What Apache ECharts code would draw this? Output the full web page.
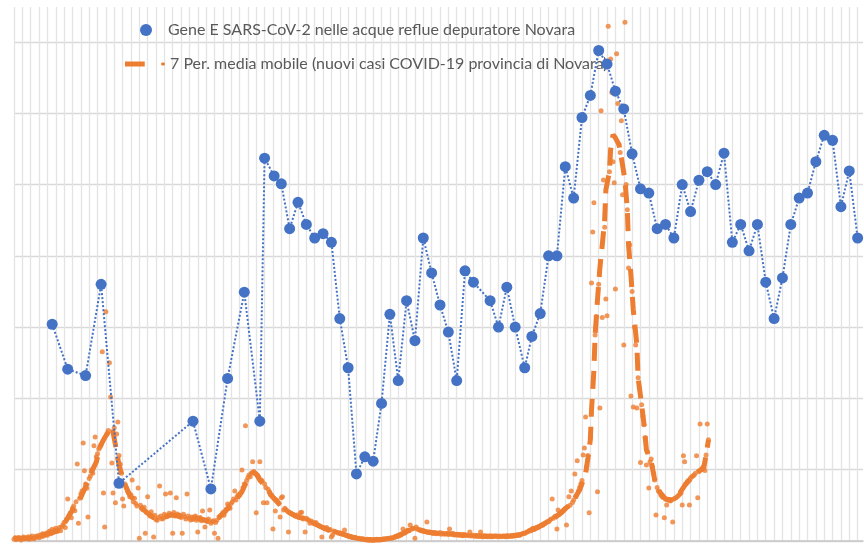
<!DOCTYPE html>
<html>
<head>
<meta charset="utf-8">
<script src="https://cdn.jsdelivr.net/npm/echarts@6/dist/echarts.min.js"></script>
<style>
  html, body { margin: 0; padding: 0; background: #ffffff; }
  #chart { width: 864px; height: 548px; }
</style>
</head>
<body>
<div id="chart"></div>
<script>
const geneName = 'Gene E SARS-CoV-2 nelle acque reflue depuratore Novara'
const maName = '7 Per. media mobile (nuovi casi COVID-19 provincia di Novara)'
const casesName = 'nuovi casi COVID-19 provincia di Novara'

// giorni dal primo dato (una riga verticale ogni 7 giorni)
const geneDays = [32, 45, 60, 73, 88, 150, 165, 179, 193, 206,
  210, 218, 224, 231, 238, 245, 252, 259, 266, 273,
  280, 287, 294, 301, 308, 315, 322, 329, 336, 343,
  350, 357, 364, 371, 378, 385, 399, 406, 413, 420,
  428, 434, 441, 448, 455, 462, 469, 476, 483, 490,
  497, 504, 511, 518, 525, 532, 539, 546, 553, 560,
  567, 574, 581, 588, 595, 602, 609, 616, 623, 630,
  637, 644, 651, 658, 665, 672, 679, 686, 693, 700, 707]
const geneValues = [3.04, 2.41, 2.32, 3.60, 0.81, 1.68, 0.73, 2.28, 3.49, 1.68,
  5.37, 5.12, 5.01, 4.38, 4.75, 4.44, 4.25, 4.31, 4.19, 3.12,
  2.43, 0.94, 1.18, 1.12, 1.93, 3.18, 2.25, 3.37, 2.81, 4.25,
  3.76, 3.31, 2.93, 2.25, 3.79, 3.63, 3.37, 3.00, 3.56, 3.00,
  2.43, 2.87, 3.19, 4.00, 4.00, 5.25, 4.81, 5.94, 6.25, 6.88,
  6.69, 6.31, 6.06, 5.43, 4.94, 4.88, 4.38, 4.44, 4.25, 5.00,
  4.62, 5.06, 5.18, 5.00, 5.44, 4.19, 4.44, 4.07, 4.44, 3.63,
  3.12, 3.69, 4.44, 4.81, 4.88, 5.32, 5.69, 5.62, 4.69, 5.19, 4.25]

// nuovi casi giornalieri, dal giorno 0
const dailyCases = [
  5, 9, 4, 7, 10, 6, 3, 8, 11, 6,
  9, 7, 12, 5, 10, 14, 8, 6, 13, 11,
  15, 9, 17, 12, 20, 14, 18, 22, 16, 25,
  28, 20, 33, 24, 30, 36, 27, 31, 38, 29,
  40, 45, 52, 38, 60, 118, 70, 78, 65, 92,
  98, 85, 110, 216, 50, 120, 132, 140, 275, 197,
  160, 148, 67, 175, 182, 200, 190, 267, 292, 236,
  245, 258, 262, 270, 531, 135, 39, 643, 300, 310,
  500, 404, 219, 135, 318, 107, 300, 334, 240, 215,
  190, 118, 98, 160, 150, 140, 135, 124, 130, 171,
  110, 120, 105, 98, 149, 8, 100, 92, 88, 95,
  22, 80, 124, 75, 70, 82, 68, 11, 72, 60,
  58, 66, 154, 70, 62, 64, 75, 132, 68, 72,
  78, 135, 74, 22, 80, 70, 121, 76, 69, 72,
  66, 22, 75, 68, 62, 132, 70, 64, 59, 67,
  60, 64, 70, 58, 25, 62, 66, 57, 84, 60,
  39, 58, 55, 62, 87, 50, 54, 57, 22, 52,
  58, 8, 66, 70, 74, 80, 72, 85, 90, 104,
  98, 92, 105, 110, 118, 140, 115, 125, 130, 128,
  135, 199, 150, 160, 323, 170, 178, 185, 180, 190,
  222, 195, 190, 79, 185, 180, 222, 172, 168, 107,
  160, 150, 107, 145, 138, 130, 128, 34, 120, 84,
  115, 110, 105, 67, 121, 124, 87, 92, 88, 84,
  25, 80, 78, 76, 74, 72, 70, 73, 68, 66,
  79, 81, 65, 62, 25, 64, 60, 58, 50, 56,
  53, 50, 48, 52, 45, 44, 42, 40, 11, 37,
  36, 34, 38, 31, 30, 32, 11, 17, 28, 26,
  25, 24, 22, 23, 20, 21, 18, 31, 17, 15,
  14, 13, 12, 11, 10, 9, 10, 8, 7, 8,
  6, 5, 7, 4, 5, 3, 4, 2, 3, 4,
  3, 2, 4, 3, 5, 3, 4, 3, 5, 4,
  6, 5, 7, 6, 8, 7, 9, 8, 10, 11,
  12, 14, 13, 17, 16, 19, 34, 22, 24, 28,
  30, 29, 45, 33, 36, 35, 8, 39, 34, 32,
  30, 31, 28, 29, 27, 26, 53, 24, 25, 23,
  24, 21, 22, 23, 20, 22, 21, 24, 19, 22,
  21, 19, 20, 22, 18, 34, 20, 19, 21, 17,
  18, 17, 19, 16, 18, 17, 15, 18, 16, 17,
  16, 15, 25, 14, 16, 15, 13, 16, 14, 15,
  13, 25, 14, 12, 15, 13, 14, 12, 13, 14,
  13, 12, 14, 13, 15, 12, 13, 14, 12, 13,
  14, 13, 12, 15, 14, 13, 14, 15, 13, 16,
  15, 17, 16, 18, 17, 19, 20, 22, 21, 24,
  25, 27, 30, 29, 33, 36, 32, 35, 38, 37,
  40, 42, 45, 44, 48, 50, 52, 55, 54, 58,
  62, 118, 64, 68, 70, 34, 87, 75, 78, 80,
  84, 88, 92, 45, 96, 124, 100, 140, 108, 115,
  188, 125, 225, 140, 150, 160, 170, 241, 261, 348,
  210, 240, 79, 290, 724, 867, 949, 578, 630, 138,
  720, 373, 1207, 627, 1013, 880, 679, 632, 1444, 1036,
  1352, 1258, 1064, 1005, 707, 1367, 1227, 1112, 1090, 1179,
  971, 550, 1455, 1000, 929, 766, 831, 407, 700, 376,
  600, 550, 373, 458, 430, 220, 382, 350, 326, 290,
  213, 250, 149, 222, 230, 209, 190, 171, 73, 150,
  140, 138, 130, 125, 122, 65, 118, 101, 116, 114,
  112, 115, 53, 118, 120, 122, 125, 128, 132, 135,
  101, 239, 222, 160, 165, 170, 101, 177, 180, 182,
  185, 190, 239, 121, 195, 328, 200, 205, 210, 198,
  241, 328, 284
]

// media mobile a 7 giorni
const maDays = [0, 13, 28, 39, 49, 55, 60, 65, 69, 72,
  75, 79, 82, 85, 88, 92, 97, 104, 111, 117,
  124, 132, 139, 146, 153, 159, 166, 171, 176, 181,
  186, 191, 194, 198, 200, 203, 206, 211, 216, 223,
  230, 236, 243, 250, 258, 266, 275, 283, 292, 300,
  308, 317, 323, 330, 335, 340, 347, 355, 365, 375,
  385, 396, 406, 416, 424, 432, 441, 447, 454, 461,
  468, 474, 479, 481, 483, 484, 486, 487, 489, 491,
  493, 495, 496, 499, 500, 502, 504, 507, 509, 512,
  514, 515, 517, 519, 522, 523, 526, 528, 530, 534,
  537, 541, 546, 552, 558, 563, 568, 573, 578, 580, 582]
const maValues = [8, 8, 20, 31, 87, 115, 152, 194, 222, 264,
  284, 306, 323, 270, 213, 166, 129, 101, 81, 65,
  65, 73, 70, 65, 65, 59, 53, 65, 79, 98,
  115, 138, 160, 182, 194, 188, 171, 152, 126, 101,
  81, 70, 62, 53, 39, 28, 20, 11, 6, 3,
  4, 8, 17, 28, 36, 31, 25, 22, 20, 17,
  14, 13, 13, 14, 17, 28, 42, 53, 67, 87,
  109, 143, 188, 233, 284, 368, 480, 578, 677, 766,
  831, 901, 985, 1036, 1098, 1140, 1131, 1112, 1075, 1013,
  929, 831, 747, 648, 550, 458, 382, 326, 255, 222,
  171, 138, 118, 115, 135, 160, 177, 194, 205, 241, 284]

const blue = '#4472C4'
const orange = '#ED7D31'

const chart = echarts.init(document.getElementById('chart'))

chart.setOption({
  animation: false,
  textStyle: { fontFamily: 'Lato, sans-serif' },
  grid: { left: 14, right: 1, top: 7, bottom: 7, containLabel: false },
  legend: [
    {
      data: [geneName],
      left: 135,
      top: 17,
      icon: 'circle',
      itemWidth: 34,
      itemHeight: 12,
      textStyle: { color: '#595959', fontSize: 16 }
    },
    {
      data: [maName],
      left: 120,
      top: 51,
      icon: 'path://M0,0H20V5H0Z M37.5,1H39.5L40.5,2V3L39.5,4H37.5L36.5,3V2Z',
      itemWidth: 40,
      itemHeight: 5,
      textStyle: { color: '#595959', fontSize: 16 }
    }
  ],
  xAxis: {
    type: 'value',
    min: 0,
    max: 711.5,
    interval: 7,
    axisLabel: { show: false },
    axisTick: { show: false },
    axisLine: { show: true, lineStyle: { color: '#c8c8c8', width: 1.5 } },
    splitLine: { show: true, showMaxLine: false, lineStyle: { color: '#e4e4e4', width: 1.3 } }
  },
  yAxis: [
    {
      type: 'value',
      min: 0,
      max: 7.49,
      interval: 1,
      axisLabel: { show: false },
      axisTick: { show: false },
      axisLine: { show: false },
      splitLine: { show: true, showMaxLine: false, lineStyle: { color: '#d9d9d9', width: 1.3 } }
    },
    {
      type: 'value',
      min: 0,
      max: 1498,
      show: false,
      splitLine: { show: false }
    }
  ],
  series: [
    {
      name: casesName,
      type: 'scatter',
      yAxisIndex: 1,
      symbolSize: 5,
      itemStyle: { color: orange },
      data: dailyCases.map((v, i) => [i, v]),
      z: 2
    },
    {
      name: maName,
      type: 'line',
      yAxisIndex: 1,
      showSymbol: false,
      lineStyle: { color: orange, width: 5, type: [18, 10], cap: 'butt' },
      itemStyle: { color: orange },
      data: maDays.map((d, i) => [d, maValues[i]]),
      z: 3
    },
    {
      name: geneName,
      type: 'line',
      symbol: 'circle',
      symbolSize: 11,
      itemStyle: { color: blue },
      lineStyle: { color: blue, width: 2, type: [2, 2] },
      data: geneDays.map((d, i) => [d, geneValues[i]]),
      z: 4
    }
  ]
})
</script>
</body>
</html>
